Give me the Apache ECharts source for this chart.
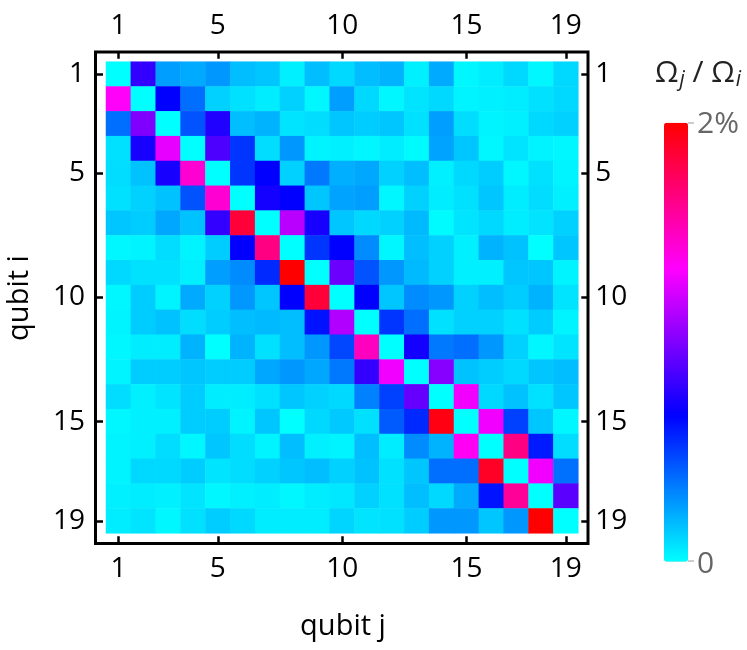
<!DOCTYPE html>
<html>
<head>
<meta charset="utf-8">
<script src="https://cdn.jsdelivr.net/npm/echarts@6/dist/echarts.min.js"></script>
<style>html,body{margin:0;padding:0;background:#fff;}#c{width:747px;height:650px;}</style>
</head>
<body>
<div id="c"></div>
<script>
// qubit labels (rows i = y, columns j = x)
const qubits = ['1','2','3','4','5','6','7','8','9','10','11','12','13','14','15','16','17','18','19'];
const tickLabels = ['1','5','10','15','19'];
// Omega_j / Omega_i in %, one array per row i
const r1  = [0, 0.80, 0.25, 0.22, 0.27, 0.17, 0.15, 0.04, 0.17, 0.10, 0.17, 0.20, 0.04, 0.22, 0.02, 0.05, 0.10, 0.02, 0.10];
const r2  = [1.35, 0, 0.67, 0.38, 0.12, 0.08, 0.05, 0.12, 0.02, 0.25, 0.10, 0.02, 0.07, 0.10, 0.03, 0.04, 0.05, 0.08, 0.10];
const r3  = [0.38, 1.00, 0, 0.45, 0.75, 0.17, 0.20, 0.07, 0.09, 0.15, 0.13, 0.15, 0.08, 0.25, 0.09, 0.03, 0.04, 0.10, 0.12];
const r4  = [0.08, 0.73, 1.27, 0, 0.87, 0.53, 0.09, 0.27, 0.03, 0.04, 0.02, 0.05, 0.01, 0.24, 0.15, 0.02, 0.07, 0.03, 0.02];
const r5  = [0.09, 0.16, 0.73, 1.45, 0, 0.53, 0.67, 0.12, 0.35, 0.21, 0.23, 0.12, 0.17, 0.04, 0.10, 0.13, 0.02, 0.08, 0.03];
const r6  = [0.08, 0.12, 0.16, 0.45, 1.45, 0, 0.72, 0.67, 0.15, 0.24, 0.25, 0.02, 0.12, 0.05, 0.08, 0.15, 0.05, 0.09, 0.04];
const r7  = [0.15, 0.13, 0.23, 0.16, 0.80, 1.85, 0, 1.15, 0.73, 0.15, 0.10, 0.12, 0.18, 0.01, 0.07, 0.10, 0.05, 0.07, 0.12];
const r8  = [0.02, 0.03, 0.09, 0.03, 0.13, 0.67, 1.66, 0, 0.53, 0.67, 0.30, 0.02, 0.17, 0.12, 0.04, 0.20, 0.16, 0.00, 0.15];
const r9  = [0.10, 0.08, 0.08, 0.04, 0.25, 0.30, 0.56, 2.00, 0, 0.95, 0.45, 0.27, 0.18, 0.12, 0.04, 0.04, 0.15, 0.15, 0.03];
const r10 = [0.02, 0.13, 0.03, 0.22, 0.12, 0.27, 0.15, 0.67, 1.85, 0, 0.67, 0.15, 0.30, 0.27, 0.12, 0.17, 0.13, 0.20, 0.07];
const r11 = [0.03, 0.13, 0.16, 0.09, 0.13, 0.17, 0.18, 0.17, 0.62, 1.13, 0, 0.53, 0.38, 0.08, 0.12, 0.12, 0.08, 0.13, 0.03];
const r12 = [0.02, 0.05, 0.05, 0.20, 0.00, 0.20, 0.08, 0.17, 0.27, 0.48, 1.50, 0, 0.72, 0.35, 0.38, 0.27, 0.12, 0.02, 0.07];
const r13 = [0.03, 0.13, 0.13, 0.15, 0.13, 0.13, 0.23, 0.27, 0.23, 0.35, 0.80, 1.30, 0, 1.02, 0.16, 0.13, 0.10, 0.15, 0.17];
const r14 = [0.09, 0.04, 0.07, 0.13, 0.05, 0.05, 0.08, 0.15, 0.12, 0.10, 0.33, 0.50, 0.93, 0, 1.30, 0.10, 0.16, 0.08, 0.15];
const r15 = [0.02, 0.04, 0.04, 0.13, 0.13, 0.03, 0.15, 0.00, 0.10, 0.14, 0.08, 0.43, 0.56, 1.95, 0, 1.30, 0.50, 0.15, 0.02];
const r16 = [0.03, 0.04, 0.09, 0.02, 0.15, 0.09, 0.03, 0.17, 0.04, 0.03, 0.17, 0.05, 0.30, 0.20, 1.36, 0, 1.66, 0.60, 0.09];
const r17 = [0.03, 0.10, 0.10, 0.13, 0.07, 0.09, 0.12, 0.15, 0.17, 0.12, 0.16, 0.08, 0.15, 0.38, 0.38, 1.90, 0, 1.30, 0.37];
const r18 = [0.04, 0.05, 0.04, 0.07, 0.02, 0.04, 0.05, 0.02, 0.05, 0.06, 0.12, 0.08, 0.17, 0.10, 0.22, 0.62, 1.60, 0, 0.90];
const r19 = [0.05, 0.07, 0.02, 0.08, 0.13, 0.10, 0.05, 0.05, 0.05, 0.11, 0.07, 0.08, 0.13, 0.27, 0.27, 0.15, 0.27, 2.00, 0];
const rows = [r1,r2,r3,r4,r5,r6,r7,r8,r9,r10,r11,r12,r13,r14,r15,r16,r17,r18,r19];
const colorStops = ['#00ffff', '#0000ff', '#ff00ff', '#ff0000'];
const scaleMin = 0, scaleMax = 2;

const data = [];
rows.forEach((row, i) => row.forEach((v, j) => data.push([j, i, v])));

const FONT = 'Open Sans';
const showIdx = (idx) => tickLabels.indexOf(qubits[idx]) >= 0;
const labelStyle = {fontFamily: FONT, fontSize: 28, color: '#000'};
function mkAxis(type, pos, margin) {
  return {
    type: 'category', data: qubits, position: pos, offset: 10,
    inverse: type === 'y',
    axisLine: {show: false},
    axisTick: {show: true, inside: true, length: 7, alignWithLabel: true, interval: showIdx,
               lineStyle: {color: '#000', width: 2.5}},
    axisLabel: Object.assign({interval: showIdx, margin: margin}, labelStyle),
    splitLine: {show: false}
  };
}

const chart = echarts.init(document.getElementById('c'), null, {renderer: 'canvas'});
chart.setOption({
  animation: false,
  backgroundColor: '#fff',
  grid: {left: 106, top: 61.7, width: 472.3, height: 471.6},
  xAxis: [mkAxis('x', 'bottom', 12), mkAxis('x', 'top', 12)],
  yAxis: [mkAxis('y', 'left', 11), mkAxis('y', 'right', 7)],
  visualMap: {
    type: 'continuous', min: scaleMin, max: scaleMax, calculable: false,
    orient: 'vertical', left: 664, top: 122.7, itemWidth: 24, itemHeight: 439,
    padding: 0, inRange: {color: colorStops}, hoverLink: false
  },
  series: [{
    type: 'heatmap', data: data, xAxisIndex: 0, yAxisIndex: 0,
    itemStyle: {borderWidth: 0}, emphasis: {disabled: true}
  }],
  graphic: [
    {type: 'rect', shape: {x: 95.5, y: 52, width: 492.5, height: 491.5},
     style: {fill: 'none', stroke: '#000', lineWidth: 3}, z: 100},
    {type: 'text', x: 343, y: 627,
     style: {text: 'qubit j', fontFamily: FONT, fontSize: 29, fill: '#000', textAlign: 'center', textVerticalAlign: 'middle'}},
    {type: 'text', x: 20, y: 298, rotation: Math.PI / 2,
     style: {text: 'qubit i', fontFamily: FONT, fontSize: 29, fill: '#000', textAlign: 'center', textVerticalAlign: 'middle'}},
    {type: 'line', shape: {x1: 688, y1: 123, x2: 694, y2: 123}, style: {stroke: '#999', lineWidth: 1}},
    {type: 'line', shape: {x1: 688, y1: 561, x2: 694, y2: 561}, style: {stroke: '#999', lineWidth: 1}},
    {type: 'text', x: 697, y: 124,
     style: {text: '2%', fontFamily: FONT, fontSize: 30, fill: '#666', textAlign: 'left', textVerticalAlign: 'middle'}},
    {type: 'text', x: 697, y: 564,
     style: {text: '0', fontFamily: FONT, fontSize: 30, fill: '#666', textAlign: 'left', textVerticalAlign: 'middle'}},
    {type: 'text', x: 655, y: 73,
     style: {text: '{a|Ω}{s|j}{a| / Ω}{s|i}', fontFamily: FONT, fill: '#222', textAlign: 'left', textVerticalAlign: 'middle',
             rich: {a: {fontFamily: FONT, fontSize: 30, fill: '#222'},
                    s: {fontFamily: FONT, fontSize: 21, fontStyle: 'italic', fill: '#222', padding: [15, 0, 0, 1]}}}}
  ]
});
</script>
</body>
</html>
